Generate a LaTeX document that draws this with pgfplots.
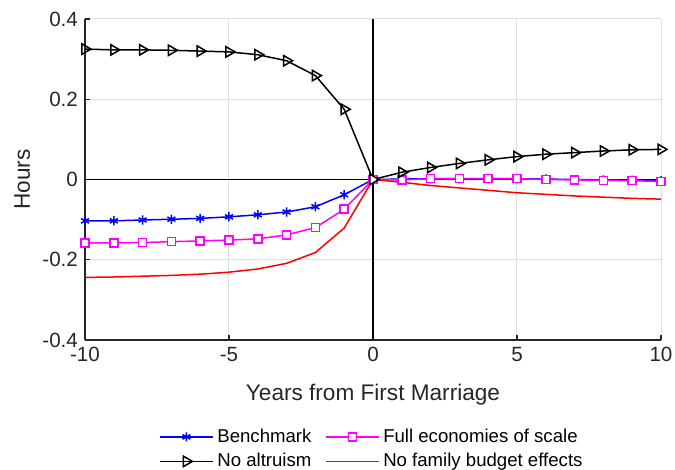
\documentclass[border=0pt]{standalone}
\usepackage{pgfplots}
\pgfplotsset{compat=1.18}
\usepackage{fontspec}
\setmainfont{Liberation Sans}
\definecolor{axgray}{RGB}{38,38,38}
\definecolor{gridgray}{RGB}{223,223,223}
\definecolor{mblue}{RGB}{0,0,255}
\definecolor{mmag}{RGB}{255,0,255}
\definecolor{mred}{RGB}{255,0,0}
\begin{document}
\begin{tikzpicture}
\begin{axis}[
  scale only axis,
  width=288pt, height=160.5pt,
  xmin=-10, xmax=10, ymin=-0.4, ymax=0.4,
  axis x line*=bottom, axis y line*=left,
  axis line style={axgray, line width=0.6pt, -},
  xtick={-10,-5,0,5,10},
  xticklabels={-10,-5,0,5,10},
  ytick={-0.4,-0.2,0,0.2,0.4},
  yticklabels={-0.4,-0.2,0,0.2,0.4},
  tick align=inside,
  major tick length=2.5pt,
  tick style={axgray, line width=0.6pt},
  grid=major,
  major grid style={gridgray, line width=0.5pt},
  tick label style={font=\fontsize{10.3}{12}\selectfont, text=axgray},
  xlabel={Years from First Marriage},
  ylabel={Hours},
  label style={font=\fontsize{11.3}{13}\selectfont, text=axgray},
  xlabel style={at={(axis description cs:0.5,-0.171)}, anchor=center},
  ylabel style={at={(axis description cs:-0.109,0.5)}, anchor=center},
  legend columns=2,
  legend style={at={(0.5,-0.34)}, anchor=center, draw=none, fill=none,
    font=\fontsize{9.3}{11}\selectfont,
    /tikz/every even column/.append style={column sep=5pt},
    row sep=0pt},
  legend cell align=left,
  legend image code/.code={
    \draw[mark repeat=2,mark phase=2,#1] plot coordinates {(0cm,0cm)(0.46cm,0cm)(0.92cm,0cm)};},
]
\addplot[black, line width=0.6pt, forget plot] coordinates {(-10,0)(10,0)};
\addplot[black, line width=0.6pt, forget plot] coordinates {(0,-0.4)(0,0.4)};
\addplot[color=mblue, draw=mblue, line width=0.75pt, mark=asterisk, mark size=2.3pt, mark options={solid, draw=mblue, line width=0.75pt}] coordinates {
(-10,-0.103)(-9,-0.103)(-8,-0.101)(-7,-0.099)(-6,-0.097)(-5,-0.093)(-4,-0.088)(-3,-0.081)(-2,-0.068)(-1,-0.038)
(0,0)(1,0.001)(2,0.002)(3,0.002)(4,0.002)(5,0.002)(6,0.001)(7,0.0)(8,-0.001)(9,-0.002)(10,-0.003)};
\addlegendentry{Benchmark}
\addplot[color=mmag, draw=mmag, line width=0.75pt, mark=square*, mark size=2pt, mark options={solid, draw=mmag, fill=white, line width=0.75pt}] coordinates {
(-10,-0.158)(-9,-0.158)(-8,-0.157)(-7,-0.155)(-6,-0.153)(-5,-0.151)(-4,-0.148)(-3,-0.138)(-2,-0.120)(-1,-0.074)
(0,0)(1,-0.001)(2,0.002)(3,0.002)(4,0.002)(5,0.002)(6,0.0)(7,-0.001)(8,-0.002)(9,-0.003)(10,-0.005)};
\addlegendentry{Full economies of scale}
\addplot[color=black, draw=black, line width=0.75pt, mark=triangle, mark size=3pt, mark options={solid, rotate=-90, draw=black, fill=none, line width=0.75pt}] coordinates {
(-10,0.325)(-9,0.323)(-8,0.323)(-7,0.322)(-6,0.320)(-5,0.318)(-4,0.311)(-3,0.296)(-2,0.259)(-1,0.175)
(0,0)(1,0.018)(2,0.030)(3,0.040)(4,0.049)(5,0.057)(6,0.063)(7,0.067)(8,0.071)(9,0.074)(10,0.075)};
\addlegendentry{No altruism}
\addplot[color=mred, draw=mred, line width=0.75pt] coordinates {
(-10,-0.244)(-9,-0.243)(-8,-0.241)(-7,-0.239)(-6,-0.236)(-5,-0.231)(-4,-0.223)(-3,-0.209)(-2,-0.182)(-1,-0.121)
(0,0)(1,-0.007)(2,-0.015)(3,-0.021)(4,-0.027)(5,-0.033)(6,-0.037)(7,-0.041)(8,-0.044)(9,-0.047)(10,-0.049)};
\addlegendentry{No family budget effects}
\end{axis}
\pgfresetboundingbox
\path[use as bounding box] ([shift={(-42.5pt,-65pt)}]current axis.south west) rectangle ([shift={(7pt,9.5pt)}]current axis.north east);
\end{tikzpicture}
\end{document}
